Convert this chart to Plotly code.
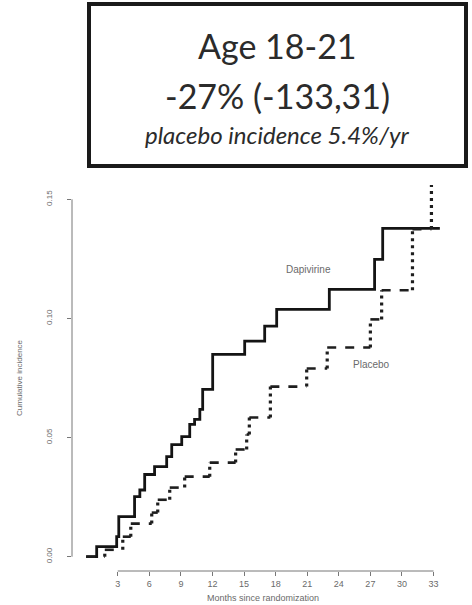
import plotly.graph_objects as go

# ---------------- data ----------------
# Dapivirine (solid): step times (months) and cumulative incidence after each step
dapi_times = [0, 1.0, 2.9, 3.1, 4.6, 5.1, 5.56, 6.5, 7.65, 8.13, 9.08, 9.84, 10.3, 10.8, 11.07, 12.02,
              15.06, 16.96, 18.1, 23.1, 27.4, 28.17]
dapi_values = [0, 0.0042, 0.0084, 0.0168, 0.0252, 0.028, 0.0345, 0.0378, 0.042, 0.047, 0.0504, 0.0555,
               0.0576, 0.0618, 0.0702, 0.0849, 0.0905, 0.0968, 0.1038, 0.1122, 0.1248, 0.1378]
dapi_end = 33.6

# Placebo (dashed): step times and values
plac_times = [0, 1.77, 3.48, 4.24, 6.23, 6.8, 7.94, 9.36, 11.74, 14.2, 15.25, 15.5, 17.5, 20.95,
              22.9, 27.0, 28.07, 31.0, 32.8]
plac_values = [0, 0.0029, 0.0084, 0.0139, 0.0185, 0.0239, 0.029, 0.0336, 0.0395, 0.045, 0.0513,
               0.0584, 0.0714, 0.079, 0.0878, 0.0996, 0.1118, 0.1375, 0.17]
plac_end = 33.6

x_ticks = [3, 6, 9, 12, 15, 18, 21, 24, 27, 30, 33]
y_ticks = [0.0, 0.05, 0.10, 0.15]
y_tick_text = ["0.00", "0.05", "0.10", "0.15"]

title_lines = ["Age 18-21", "-27% (-133,31)", "placebo incidence 5.4%/yr"]

# ---------------- figure ----------------
W, H = 472, 605
ML, MR, MT, MB = 72, 18, 185, 34

fig = go.Figure()

# Dapivirine solid step line
fig.add_trace(go.Scatter(
    x=dapi_times + [dapi_end], y=dapi_values + [dapi_values[-1]],
    mode="lines", line=dict(color="#141414", width=2.8, shape="hv"),
    showlegend=False, hoverinfo="skip"))

# Placebo: horizontal parts dashed, vertical parts dotted
hx, hy, vx, vy = [], [], [], []
ends = plac_times[1:] + [plac_end]
for i, t in enumerate(plac_times):
    hx += [t, ends[i], None]
    hy += [plac_values[i], plac_values[i], None]
    if i > 0:
        vx += [t, t, None]
        vy += [plac_values[i - 1], plac_values[i], None]

fig.add_trace(go.Scatter(x=hx, y=hy, mode="lines",
                         line=dict(color="#1e1e1e", width=2.6, dash="9px,9px"),
                         showlegend=False, hoverinfo="skip"))
fig.add_trace(go.Scatter(x=vx, y=vy, mode="lines",
                         line=dict(color="#1e1e1e", width=3.2, dash="3px,4px"),
                         showlegend=False, hoverinfo="skip"))

small_font = dict(family="Liberation Sans, Arial", size=9, color="#6a6a6a")

fig.update_layout(
    width=W, height=H,
    margin=dict(l=ML, r=MR, t=MT, b=MB),
    paper_bgcolor="white", plot_bgcolor="white",
    xaxis=dict(range=[-1.344, 34.944], showgrid=False, zeroline=False, showline=False,
               tickvals=x_ticks, ticktext=[str(v) for v in x_ticks],
               ticks="outside", ticklen=4, tickcolor="#777", tickwidth=1,
               tickfont=small_font),
    yaxis=dict(range=[-0.006, 0.156], showgrid=False, zeroline=False, showline=False,
               tickvals=y_ticks, ticktext=y_tick_text, tickangle=-90,
               ticks="outside", ticklen=4, tickcolor="#777", tickwidth=1,
               tickfont=dict(family="Liberation Sans, Arial", size=8, color="#6a6a6a"),
               ticklabelstandoff=12),
)

# R-style axis lines spanning tick range only
fig.add_shape(type="line", xref="x", yref="paper", x0=x_ticks[0], x1=x_ticks[-1], y0=0, y1=0,
              line=dict(color="#777", width=1))
fig.add_shape(type="line", xref="paper", yref="y", x0=0, x1=0, y0=y_ticks[0], y1=y_ticks[-1],
              line=dict(color="#777", width=1))

# axis titles
fig.add_annotation(text="Months since randomization", xref="paper", yref="paper", x=0.5, y=0,
                   xanchor="center", yanchor="middle", yshift=-27, showarrow=False,
                   font=dict(family="Liberation Sans, Arial", size=9, color="#6a6a6a"))
fig.add_annotation(text="Cumulative incidence", xref="paper", yref="paper", x=0, y=0.5, xshift=-53,
                   xanchor="center", yanchor="middle",
                   textangle=-90, showarrow=False, font=dict(family="Liberation Sans, Arial", size=8, color="#6a6a6a"))

# curve labels
fig.add_annotation(text="Dapivirine", x=21.1, y=0.1206, showarrow=False,
                   font=dict(family="Liberation Sans, Arial", size=10, color="#6a6a6a"))
fig.add_annotation(text="Placebo", x=27.1, y=0.0807, showarrow=False,
                   font=dict(family="Liberation Sans, Arial", size=10, color="#6a6a6a"))

# title box
pw, ph = W - ML - MR, H - MT - MB
def px_x(px): return (px - ML) / pw
def px_y(py): return (H - MB - py) / ph

fig.add_shape(type="rect", xref="paper", yref="paper",
              x0=px_x(89), x1=px_x(466), y0=px_y(166), y1=px_y(4),
              line=dict(color="#1a1a1a", width=4), fillcolor="white", layer="above")
cx = px_x(277)
for txt, ypx, size in [(title_lines[0], 45, 34), (title_lines[1], 95, 34),
                       ("<i>" + title_lines[2] + "</i>", 134, 24)]:
    fig.add_annotation(text=txt, xref="paper", yref="paper", x=cx, y=px_y(ypx),
                       xanchor="center", yanchor="middle",
                       showarrow=False, font=dict(family="Lato", size=size, color="#2b2b2b"))

fig.write_html("out.html")
